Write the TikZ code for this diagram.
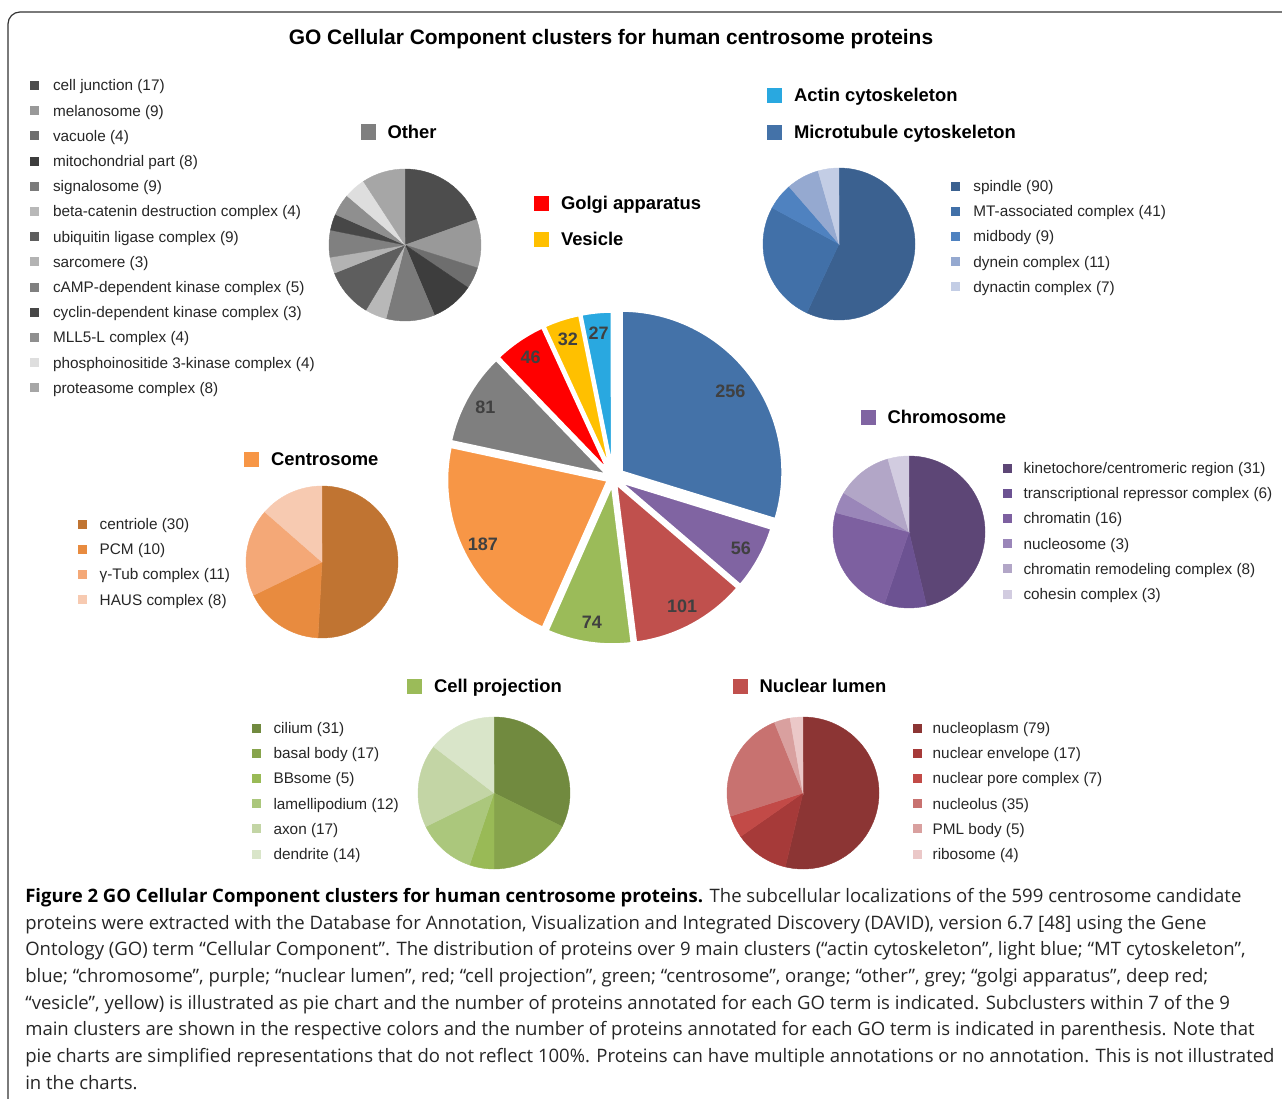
\documentclass[tikz,border=0pt]{standalone}
\usepackage{fontspec}
\setmainfont{Liberation Sans}
\newfontfamily\capfont{Open Sans}
\usetikzlibrary{positioning}

% main clusters
\definecolor{mainblue}{HTML}{4472A8}
\definecolor{actinblue}{HTML}{29A8E0}
\definecolor{chrompurple}{HTML}{8064A2}
\definecolor{nucred}{HTML}{C0504D}
\definecolor{projgreen}{HTML}{9BBB59}
\definecolor{centorange}{HTML}{F79646}
\definecolor{othgray}{HTML}{7F7F7F}
\definecolor{golgired}{HTML}{FF0000}
\definecolor{vesyellow}{HTML}{FFC000}
\definecolor{numgray}{HTML}{404040}
\definecolor{framegray}{HTML}{333333}
% other
\definecolor{oth1}{HTML}{4D4D4D}\definecolor{oth2}{HTML}{999999}
\definecolor{oth3}{HTML}{6E6E6E}\definecolor{oth4}{HTML}{3D3D3D}
\definecolor{oth5}{HTML}{7B7B7B}\definecolor{oth6}{HTML}{B8B8B8}
\definecolor{oth7}{HTML}{5E5E5E}\definecolor{oth8}{HTML}{B3B3B3}
\definecolor{oth9}{HTML}{808080}\definecolor{oth10}{HTML}{474747}
\definecolor{oth11}{HTML}{8F8F8F}\definecolor{oth12}{HTML}{DEDEDE}
\definecolor{oth13}{HTML}{A6A6A6}
% microtubule
\definecolor{mt1}{HTML}{3B6190}\definecolor{mt2}{HTML}{4170A8}
\definecolor{mt3}{HTML}{4F82C0}\definecolor{mt4}{HTML}{95A9D0}
\definecolor{mt5}{HTML}{C3CDE5}
% chromosome
\definecolor{chr1}{HTML}{5D4676}\definecolor{chr2}{HTML}{6C5292}
\definecolor{chr3}{HTML}{7D60A0}\definecolor{chr4}{HTML}{9A86B9}
\definecolor{chr5}{HTML}{B2A6C7}\definecolor{chr6}{HTML}{D2CCE0}
% centrosome
\definecolor{cen1}{HTML}{C07432}\definecolor{cen2}{HTML}{E88B3F}
\definecolor{cen3}{HTML}{F4A877}\definecolor{cen4}{HTML}{F7CAB1}
% cell projection
\definecolor{prj1}{HTML}{718A3F}\definecolor{prj2}{HTML}{87A44C}
\definecolor{prj3}{HTML}{99BA56}\definecolor{prj4}{HTML}{ABC77C}
\definecolor{prj5}{HTML}{C3D5A5}\definecolor{prj6}{HTML}{D9E5C9}
% nuclear lumen
\definecolor{nuc1}{HTML}{8C3534}\definecolor{nuc2}{HTML}{A63A39}
\definecolor{nuc3}{HTML}{C24A47}\definecolor{nuc4}{HTML}{C87270}
\definecolor{nuc5}{HTML}{D9A09F}\definecolor{nuc6}{HTML}{EBC8C8}

\begin{document}
\begin{tikzpicture}[x=0.75pt, y=-0.75pt,
  legbox/.style={fill=#1, minimum size=6.75pt, inner sep=0pt},
  headbox/.style={fill=#1, minimum size=11.25pt, inner sep=0pt},
  legtext/.style={font=\fontsize{11.5}{13}\selectfont, inner sep=0pt,
    text height=10.7pt, text depth=2.5pt, text=black!85},
  headtext/.style={font=\bfseries\fontsize{13.8}{16}\selectfont, inner sep=0pt,
    text height=12.2pt, text depth=3pt},
  numlabel/.style={font=\bfseries\fontsize{13.5}{16}\selectfont, text=numgray, inner sep=0pt},
  slice/.style={fill=#1, draw=#1, line width=0.3pt}]
\useasboundingbox (0,0) rectangle (1282,1099);

% frame
\draw[framegray, line width=0.9pt, rounded corners=9pt] (1282,12) -- (8,12) -- (8,1099);

\node[font=\bfseries\fontsize{15.7}{18}\selectfont] (title) at (611,39)
  {GO Cellular Component clusters for human centrosome proteins};

% Main pie (centre)
\begin{scope}[shift={(613,478)}]
  \xdef\angA{-90}
  \foreach \v/\c/\e in {256/mainblue/10, 56/chrompurple/5, 101/nucred/5,
      74/projgreen/5, 187/centorange/5, 81/othgray/5, 46/golgired/5,
      32/vesyellow/5, 27/actinblue/5} {
    \pgfmathsetmacro{\angB}{\angA+\v/860*360}
    \pgfmathsetmacro{\angM}{(\angA+\angB)/2}
    \filldraw[fill=\c, draw=white, line width=2.6pt, line join=round, shift={(\angM:\e)}]
      (0,0) -- (\angA:162) arc[start angle=\angA, end angle=\angB, radius=162] -- cycle;
    \node[numlabel] (num\v) at (\angM:146) {\v};
    \xdef\angA{\angB}
  }
\end{scope}

% Other (top left)
\node[headbox=othgray] (othbox) at (368,132) {};
\node[headtext, right=8.6pt of othbox] (othhead) {Other};
\foreach \lab/\c [count=\i] in {cell junction (17)/oth1, melanosome (9)/oth2,
    vacuole (4)/oth3, mitochondrial part (8)/oth4, signalosome (9)/oth5,
    beta-catenin destruction complex (4)/oth6, ubiquitin ligase complex (9)/oth7,
    sarcomere (3)/oth8, cAMP-dependent kinase complex (5)/oth9,
    cyclin-dependent kinase complex (3)/oth10, MLL5-L complex (4)/oth11,
    phosphoinositide 3-kinase complex (4)/oth12, proteasome complex (8)/oth13} {
  \node[legbox=\c] (othsq\i) at (34,{85.5+25.2*(\i-1)}) {};
  \node[legtext, right=10.5pt of othsq\i] (othtx\i) {\lab};
}
\begin{scope}[shift={(405,245)}]
  \xdef\angA{-90}
  \foreach \v/\c in {17/oth1, 9/oth2, 4/oth3, 8/oth4, 9/oth5, 4/oth6, 9/oth7,
      3/oth8, 5/oth9, 3/oth10, 4/oth11, 4/oth12, 8/oth13} {
    \pgfmathsetmacro{\angB}{\angA+\v/87*360}
    \filldraw[slice=\c] (0,0) -- (\angA:76) arc[start angle=\angA, end angle=\angB, radius=76] -- cycle;
    \xdef\angA{\angB}
  }
\end{scope}

% Golgi and vesicle
\node[headbox=golgired] (golbox) at (541.5,203.5) {};
\node[headtext, right=8.6pt of golbox] (golhead) {Golgi apparatus};
\node[headbox=vesyellow] (vesbox) at (541.5,239.5) {};
\node[headtext, right=8.6pt of vesbox] (veshead) {Vesicle};

% Actin and microtubule cytoskeleton (top right)
\node[headbox=actinblue] (actbox) at (774.5,95.5) {};
\node[headtext, right=8.6pt of actbox] (acthead) {Actin cytoskeleton};
\node[headbox=mainblue] (mtbox) at (774.5,132.5) {};
\node[headtext, right=8.6pt of mtbox] (mthead) {Microtubule cytoskeleton};
\foreach \lab/\c [count=\i] in {spindle (90)/mt1, MT-associated complex (41)/mt2,
    midbody (9)/mt3, dynein complex (11)/mt4, dynactin complex (7)/mt5} {
  \node[legbox=\c] (mtsq\i) at (955,{186+25.2*(\i-1)}) {};
  \node[legtext, right=10pt of mtsq\i] (mttx\i) {\lab};
}
\begin{scope}[shift={(839,244)}]
  \xdef\angA{-90}
  \foreach \v/\c in {90/mt1, 41/mt2, 9/mt3, 11/mt4, 7/mt5} {
    \pgfmathsetmacro{\angB}{\angA+\v/158*360}
    \filldraw[slice=\c] (0,0) -- (\angA:76) arc[start angle=\angA, end angle=\angB, radius=76] -- cycle;
    \xdef\angA{\angB}
  }
\end{scope}

% Chromosome (right)
\node[headbox=chrompurple] (chrbox) at (868,417) {};
\node[headtext, right=8.6pt of chrbox] (chrhead) {Chromosome};
\foreach \lab/\c [count=\i] in {{kinetochore/centromeric region (31)}/chr1,
    transcriptional repressor complex (6)/chr2, chromatin (16)/chr3,
    nucleosome (3)/chr4, chromatin remodeling complex (8)/chr5, cohesin complex (3)/chr6} {
  \node[legbox=\c] (chrsq\i) at (1007,{468+25.2*(\i-1)}) {};
  \node[legtext, right=8.6pt of chrsq\i] (chrtx\i) {\lab};
}
\begin{scope}[shift={(909,532)}]
  \xdef\angA{-90}
  \foreach \v/\c in {31/chr1, 6/chr2, 16/chr3, 3/chr4, 8/chr5, 3/chr6} {
    \pgfmathsetmacro{\angB}{\angA+\v/67*360}
    \filldraw[slice=\c] (0,0) -- (\angA:76) arc[start angle=\angA, end angle=\angB, radius=76] -- cycle;
    \xdef\angA{\angB}
  }
\end{scope}

% Centrosome (left)
\node[headbox=centorange] (cenbox) at (251.5,459) {};
\node[headtext, right=8.6pt of cenbox] (cenhead) {Centrosome};
\foreach \lab/\c [count=\i] in {centriole (30)/cen1, PCM (10)/cen2,
    γ-Tub complex (11)/cen3, HAUS complex (8)/cen4} {
  \node[legbox=\c] (censq\i) at (82,{524+25.2*(\i-1)}) {};
  \node[legtext, right=9.5pt of censq\i] (centx\i) {\lab};
}
\begin{scope}[shift={(322,562)}]
  \xdef\angA{-90}
  \foreach \v/\c in {30/cen1, 10/cen2, 11/cen3, 8/cen4} {
    \pgfmathsetmacro{\angB}{\angA+\v/59*360}
    \filldraw[slice=\c] (0,0) -- (\angA:76) arc[start angle=\angA, end angle=\angB, radius=76] -- cycle;
    \xdef\angA{\angB}
  }
\end{scope}

% Cell projection (bottom left)
\node[headbox=projgreen] (prjbox) at (414.5,686) {};
\node[headtext, right=8.6pt of prjbox] (prjhead) {Cell projection};
\foreach \lab/\c [count=\i] in {cilium (31)/prj1, basal body (17)/prj2, BBsome (5)/prj3,
    lamellipodium (12)/prj4, axon (17)/prj5, dendrite (14)/prj6} {
  \node[legbox=\c] (prjsq\i) at (256.5,{728+25.2*(\i-1)}) {};
  \node[legtext, right=9pt of prjsq\i] (prjtx\i) {\lab};
}
\begin{scope}[shift={(494,793)}]
  \xdef\angA{-90}
  \foreach \v/\c in {31/prj1, 17/prj2, 5/prj3, 12/prj4, 17/prj5, 14/prj6} {
    \pgfmathsetmacro{\angB}{\angA+\v/96*360}
    \filldraw[slice=\c] (0,0) -- (\angA:76) arc[start angle=\angA, end angle=\angB, radius=76] -- cycle;
    \xdef\angA{\angB}
  }
\end{scope}

% Nuclear lumen (bottom right)
\node[headbox=nucred] (nucbox) at (740,686.5) {};
\node[headtext, right=8.6pt of nucbox] (nuchead) {Nuclear lumen};
\foreach \lab/\c [count=\i] in {nucleoplasm (79)/nuc1, nuclear envelope (17)/nuc2,
    nuclear pore complex (7)/nuc3, nucleolus (35)/nuc4, PML body (5)/nuc5, ribosome (4)/nuc6} {
  \node[legbox=\c] (nucsq\i) at (917,{728+25.2*(\i-1)}) {};
  \node[legtext, right=8pt of nucsq\i] (nuctx\i) {\lab};
}
\begin{scope}[shift={(803,793)}]
  \xdef\angA{-90}
  \foreach \v/\c in {79/nuc1, 17/nuc2, 7/nuc3, 35/nuc4, 5/nuc5, 4/nuc6} {
    \pgfmathsetmacro{\angB}{\angA+\v/147*360}
    \filldraw[slice=\c] (0,0) -- (\angA:76) arc[start angle=\angA, end angle=\angB, radius=76] -- cycle;
    \xdef\angA{\angB}
  }
\end{scope}

% caption
\node[anchor=north west, align=left, inner sep=0pt, text=black!85,
  font=\capfont\fontsize{13.9}{20}\selectfont] (caption) at (25,888)
  {{\bfseries\color{black}Figure 2 GO Cellular Component clusters for human centrosome proteins.} The subcellular localizations of the 599 centrosome candidate\\
  proteins were extracted with the Database for Annotation, Visualization and Integrated Discovery (DAVID), version 6.7 [48] using the Gene\\
  Ontology (GO) term “Cellular Component”. The distribution of proteins over 9 main clusters (“actin cytoskeleton”, light blue; “MT cytoskeleton”,\\
  blue; “chromosome”, purple; “nuclear lumen”, red; “cell projection”, green; “centrosome”, orange; “other”, grey; “golgi apparatus”, deep red;\\
  “vesicle”, yellow) is illustrated as pie chart and the number of proteins annotated for each GO term is indicated. Subclusters within 7 of the 9\\
  main clusters are shown in the respective colors and the number of proteins annotated for each GO term is indicated in parenthesis. Note that\\
  pie charts are simplified representations that do not reflect 100\%. Proteins can have multiple annotations or no annotation. This is not illustrated\\
  in the charts.};
\end{tikzpicture}
\end{document}
